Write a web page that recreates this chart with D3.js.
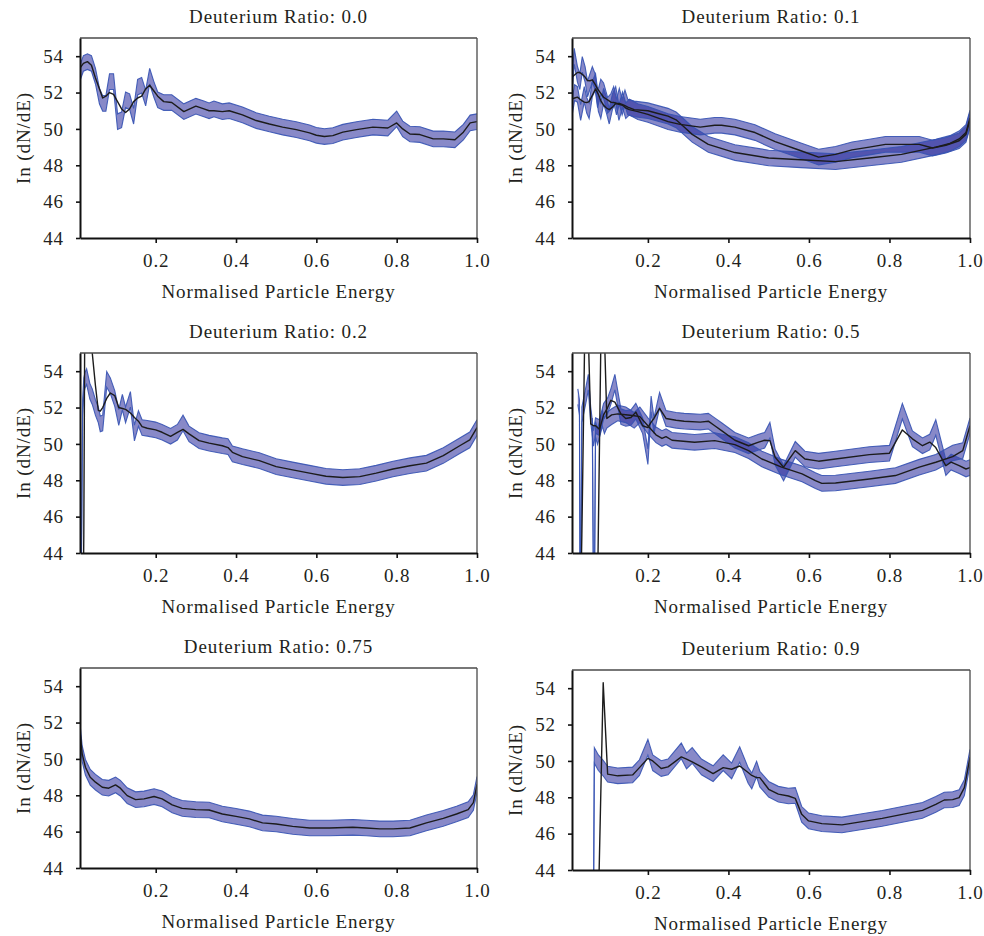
<!DOCTYPE html>
<html>
<head>
<meta charset="utf-8">
<script src="https://cdn.jsdelivr.net/npm/d3@7"></script>
<style>
  body { margin: 0; background: #ffffff; }
  text { font-family: "Liberation Serif", "Times New Roman", serif; fill: #231f20; }
</style>
</head>
<body>
<svg id="chart" width="984" height="936"></svg>
<script>
// ---- Axis ticks and labels ----
const xTicks = [0.2, 0.4, 0.6, 0.8, 1.0];
const yTicks = [44, 46, 48, 50, 52, 54];
const xDomain = [0.0115, 1.0];
const yDomain = [44, 55];
const xLabel = "Normalised Particle Energy";
const yLabel = "In (dN/dE)";
const titles = ["Deuterium Ratio: 0.0", "Deuterium Ratio: 0.1", "Deuterium Ratio: 0.2",
                "Deuterium Ratio: 0.5", "Deuterium Ratio: 0.75", "Deuterium Ratio: 0.9"];
const bandHalfWidth = 0.43;   // uncertainty half-width of the shaded band

// ---- Deuterium ratio 0.0 ----
const energy00 = [0.010,0.020,0.030,0.040,0.050,0.060,0.068,0.076,0.085,0.095,0.105,0.115,0.125,0.135,0.145,0.155,0.165,0.175,0.185,0.195,0.205,0.220,0.240,0.270,0.300,0.320,0.333,0.345,0.366,0.383,0.416,0.450,0.483,0.516,0.550,0.583,0.600,0.620,0.641,0.666,0.700,0.741,0.778,0.800,0.815,0.833,0.858,0.891,0.916,0.945,0.966,0.983,1.000];
const line00   = [53.3,53.6,53.7,53.5,52.8,52.2,51.7,51.8,52.0,51.9,51.5,51.1,50.9,51.1,51.5,51.7,51.8,52.2,52.4,52.1,51.8,51.5,51.45,50.95,51.25,51.1,51.0,51.0,50.95,51.0,50.77,50.46,50.27,50.1,49.96,49.78,49.65,49.58,49.63,49.82,49.96,50.1,50.05,50.33,50.0,49.72,49.69,49.45,49.45,49.4,49.82,50.33,50.4];
const band00   = [53.0,53.6,53.7,53.6,52.9,51.8,51.4,51.4,52.6,52.6,50.4,50.5,51.6,51.5,50.7,52.3,52.4,51.7,52.9,52.2,51.6,51.45,51.45,50.95,51.25,51.1,51.0,51.1,50.95,51.0,50.77,50.46,50.27,50.1,49.96,49.78,49.65,49.58,49.63,49.82,49.96,50.1,50.05,50.55,50.0,49.72,49.69,49.45,49.45,49.4,49.82,50.33,50.4];

// ---- Deuterium ratio 0.1 (two runs) ----
const energy01a = [0.012,0.017,0.025,0.031,0.037,0.044,0.050,0.056,0.062,0.069,0.075,0.083,0.090,0.100,0.108,0.115,0.122,0.129,0.136,0.143,0.150,0.166,0.200,0.225,0.250,0.270,0.290,0.310,0.350,0.416,0.500,0.580,0.666,0.750,0.830,0.915,0.950,0.973,0.990,1.000];
const line01a   = [52.85,52.95,53.1,53.1,53.0,52.85,52.66,52.65,52.7,52.45,52.2,51.95,51.74,51.6,51.47,51.45,51.42,51.4,51.35,51.28,51.2,51.06,51.0,50.85,50.7,50.5,50.1,49.7,49.15,48.7,48.4,48.3,48.2,48.4,48.6,49.0,49.2,49.45,49.8,50.6];
const band01a   = [52.4,54.0,53.0,52.6,53.55,53.0,52.2,52.6,53.0,52.6,51.6,52.3,52.1,51.3,51.5,51.9,51.2,51.8,51.2,51.7,51.2,51.1,51.0,50.85,50.7,50.5,50.1,49.7,49.15,48.7,48.4,48.3,48.2,48.4,48.6,49.0,49.2,49.45,49.8,50.6];
const energy01b = [0.012,0.018,0.025,0.033,0.042,0.048,0.054,0.062,0.070,0.077,0.083,0.090,0.097,0.104,0.112,0.120,0.128,0.137,0.145,0.154,0.175,0.200,0.250,0.280,0.330,0.366,0.383,0.416,0.466,0.516,0.580,0.624,0.666,0.707,0.750,0.790,0.832,0.874,0.907,0.940,0.973,0.990,1.000];
const line01b   = [51.65,51.7,51.75,51.6,51.47,51.45,51.5,51.85,52.2,51.9,51.56,51.3,51.15,51.06,51.2,51.4,51.35,51.3,51.15,51.06,50.95,50.8,50.4,50.25,50.1,50.2,50.2,50.1,49.8,49.3,48.8,48.45,48.6,48.85,49.0,49.15,49.15,49.15,48.95,49.1,49.35,49.7,50.5];
const band01b   = [51.2,52.0,51.9,50.9,51.9,51.3,51.0,52.2,52.6,51.4,51.0,51.8,51.3,50.7,51.5,51.9,50.9,51.6,51.0,51.2,50.95,50.8,50.4,50.25,50.1,50.2,50.2,50.1,49.8,49.3,48.8,48.45,48.6,48.85,49.0,49.15,49.15,49.15,48.95,49.1,49.35,49.7,50.5];

// ---- Deuterium ratio 0.2 ----
const energy02 = [0.013,0.018,0.021,0.024,0.028,0.036,0.042,0.050,0.057,0.062,0.068,0.078,0.087,0.098,0.108,0.117,0.125,0.137,0.147,0.157,0.166,0.179,0.200,0.216,0.237,0.254,0.268,0.283,0.308,0.333,0.366,0.380,0.391,0.416,0.458,0.500,0.541,0.583,0.624,0.666,0.708,0.749,0.791,0.833,0.874,0.916,0.957,0.982,1.000];
const line02   = [38,38,45,60,60,58,55,53.2,51.85,51.8,52.0,52.5,52.8,52.66,52.0,51.95,51.9,51.7,51.45,51.25,50.95,50.86,50.77,50.64,50.42,50.64,50.8,50.55,50.18,50.04,49.9,49.8,49.54,49.3,49.08,48.75,48.57,48.39,48.22,48.15,48.2,48.39,48.62,48.8,48.94,49.36,49.9,50.22,50.9];
const band02   = [38,52.0,53.2,53.5,53.7,52.9,52.6,52.0,51.6,51.1,51.15,53.55,53.2,52.5,51.45,52.3,51.6,52.45,50.6,51.4,50.9,50.86,50.77,50.64,50.42,50.64,51.15,50.55,50.18,50.04,49.9,49.85,49.45,49.3,49.08,48.75,48.57,48.39,48.22,48.15,48.2,48.39,48.62,48.8,48.94,49.36,49.9,50.22,50.9];

// ---- Deuterium ratio 0.5 (two runs) ----
const energy05a = [0.026,0.030,0.032,0.036,0.047,0.052,0.058,0.065,0.070,0.080,0.090,0.100,0.108,0.118,0.133,0.145,0.158,0.170,0.187,0.200,0.208,0.215,0.229,0.245,0.270,0.290,0.330,0.350,0.366,0.383,0.416,0.450,0.475,0.490,0.503,0.516,0.537,0.566,0.590,0.624,0.666,0.750,0.800,0.832,0.857,0.882,0.900,0.915,0.940,0.953,0.973,0.990,1.000];
const line05a   = [null,null,40,45,62,56,51.1,51.0,51.0,50.8,51.6,52.0,52.4,52.3,51.65,51.4,51.45,51.75,51.0,50.9,51.2,51.4,51.95,51.4,51.3,51.25,51.2,51.25,51.0,50.73,50.2,49.9,50.1,50.2,50.18,49.27,48.72,49.63,49.17,49.05,49.17,49.41,49.49,50.77,50.28,49.9,50.1,49.8,48.8,49.0,48.8,48.62,48.7];
const band05a   = [52.6,52.0,38,51.6,52.8,53.4,51.6,50.3,51.0,50.9,51.8,52.1,52.6,53.4,51.5,51.4,51.45,51.8,51.0,49.3,52.2,51.0,52.4,51.4,51.3,51.25,51.2,51.25,51.0,50.73,50.2,49.9,50.1,50.2,50.75,49.27,48.4,49.7,49.17,49.05,49.17,49.41,49.49,51.8,50.28,49.9,50.1,50.9,48.7,49.0,48.8,48.62,48.7];
const energy05b = [0.062,0.066,0.070,0.075,0.087,0.092,0.098,0.110,0.125,0.145,0.166,0.180,0.200,0.220,0.235,0.245,0.260,0.316,0.366,0.416,0.450,0.483,0.532,0.583,0.616,0.632,0.666,0.750,0.815,0.874,0.915,0.957,0.982,1.000];
const line05b   = [null,null,38,42,62,56,51.4,51.6,51.65,51.6,51.55,51.5,51.0,50.5,50.3,50.4,50.2,50.09,50.18,49.96,49.63,49.17,48.72,48.35,47.98,47.83,47.85,48.07,48.26,48.72,48.99,49.3,49.63,51.0];
const band05b   = [51.0,38,50.8,50.4,51.4,51.0,51.3,51.5,51.7,51.6,51.3,51.6,51.0,50.5,50.3,50.4,50.2,50.09,50.18,49.96,49.63,49.17,48.72,48.35,47.98,47.83,47.85,48.07,48.26,48.72,48.99,49.5,49.63,51.0];

// ---- Deuterium ratio 0.75 ----
const energy075 = [0.010,0.017,0.025,0.037,0.050,0.067,0.083,0.100,0.112,0.129,0.150,0.171,0.196,0.216,0.241,0.266,0.300,0.333,0.366,0.400,0.433,0.466,0.500,0.541,0.583,0.633,0.691,0.724,0.758,0.791,0.833,0.874,0.916,0.949,0.978,0.991,1.000];
const line075   = [51.83,50.28,49.54,48.99,48.72,48.44,48.39,48.57,48.39,47.98,47.76,47.8,47.93,47.8,47.47,47.28,47.21,47.19,46.97,46.84,46.7,46.48,46.42,46.29,46.2,46.2,46.24,46.2,46.15,46.15,46.2,46.48,46.73,46.97,47.21,47.6,48.6];
const band075   = line075;

// ---- Deuterium ratio 0.9 ----
const energy09 = [0.064,0.067,0.077,0.089,0.100,0.125,0.162,0.179,0.200,0.212,0.233,0.250,0.283,0.296,0.310,0.333,0.362,0.387,0.408,0.428,0.449,0.458,0.470,0.478,0.500,0.524,0.549,0.566,0.582,0.599,0.632,0.682,0.732,0.782,0.832,0.882,0.915,0.936,0.957,0.973,0.986,1.000];
const line09   = [null,null,42,54.3,49.27,49.18,49.23,49.63,50.14,50.0,49.58,49.67,50.22,50.1,49.95,49.67,49.3,49.63,49.54,49.72,49.36,49.2,49.08,49.08,48.44,48.17,48.07,47.94,47.06,46.7,46.55,46.48,46.66,46.84,47.06,47.28,47.61,47.85,47.87,47.98,48.53,50.2];
const band09   = [38,50.3,49.9,49.6,49.27,49.18,49.23,49.63,50.75,49.9,49.58,49.67,50.55,50.0,50.3,49.67,49.3,49.9,49.45,50.35,49.2,48.9,49.55,49.0,48.44,48.17,48.07,48.1,47.06,46.7,46.55,46.48,46.66,46.84,47.06,47.28,47.61,47.85,47.87,47.98,48.53,50.2];

// ---- Panel layout ----
const panels = [
  { title: titles[0], left: 80,  top: 38,  width: 397, series: [{ x: energy00, line: line00, band: band00 }] },
  { title: titles[1], left: 572, top: 38,  width: 398, series: [{ x: energy01a, line: line01a, band: band01a }, { x: energy01b, line: line01b, band: band01b }] },
  { title: titles[2], left: 80,  top: 353, width: 397, series: [{ x: energy02, line: line02, band: band02 }] },
  { title: titles[3], left: 572, top: 353, width: 398, series: [{ x: energy05a, line: line05a, band: band05a }, { x: energy05b, line: line05b, band: band05b }] },
  { title: titles[4], left: 80,  top: 668, width: 397, series: [{ x: energy075, line: line075, band: band075 }] },
  { title: titles[5], left: 572, top: 670, width: 398, series: [{ x: energy09, line: line09, band: band09 }] }
];
const panelHeight = 200;

const bandFill = "#26289a";
const bandEdge = "#3552b2";
const lineColor = "#1c1c1c";
const fontSize = 19;
const spacing = "0.9px";

const svg = d3.select("#chart");

panels.forEach((p, i) => {
  const x = d3.scaleLinear().domain(xDomain).range([p.left, p.left + p.width]);
  const y = d3.scaleLinear().domain(yDomain).range([p.top + panelHeight, p.top]);
  const g = svg.append("g");

  g.append("clipPath").attr("id", "clip" + i)
    .append("rect")
    .attr("x", p.left).attr("y", p.top)
    .attr("width", p.width).attr("height", panelHeight);

  const plot = g.append("g").attr("clip-path", `url(#clip${i})`);

  const rows = p.series.map(s => s.x.map((xv, k) => ({ x: xv, m: s.line[k], b: s.band[k] })));

  const area = d3.area()
    .x(d => x(d.x))
    .y0(d => y(d.b - bandHalfWidth))
    .y1(d => y(d.b + bandHalfWidth));
  const upper = d3.line().x(d => x(d.x)).y(d => y(d.b + bandHalfWidth));
  const lower = d3.line().x(d => x(d.x)).y(d => y(d.b - bandHalfWidth));
  const mean = d3.line()
    .defined(d => d.m !== null)
    .x(d => x(d.x)).y(d => y(d.m));

  rows.forEach(r => {
    plot.append("path").attr("d", area(r))
      .attr("fill", bandFill).attr("fill-opacity", 0.55);
  });
  rows.forEach(r => {
    [upper, lower].forEach(gen => {
      plot.append("path").attr("d", gen(r))
        .attr("fill", "none").attr("stroke", bandEdge)
        .attr("stroke-width", 1.1).attr("stroke-opacity", 0.9);
    });
  });
  rows.forEach(r => {
    plot.append("path").attr("d", mean(r))
      .attr("fill", "none").attr("stroke", lineColor)
      .attr("stroke-width", 1.4).attr("stroke-linejoin", "round");
  });

  // top and right frame
  g.append("line")
    .attr("x1", p.left).attr("x2", p.left + p.width)
    .attr("y1", p.top).attr("y2", p.top)
    .attr("stroke", "#4a4a4a").attr("stroke-width", 1.3);
  g.append("line")
    .attr("x1", p.left + p.width).attr("x2", p.left + p.width)
    .attr("y1", p.top).attr("y2", p.top + panelHeight)
    .attr("stroke", "#4a4a4a").attr("stroke-width", 1.3);

  // bottom axis
  const xa = g.append("g")
    .attr("transform", `translate(0,${p.top + panelHeight})`)
    .call(d3.axisBottom(x).tickValues(xTicks).tickFormat(d3.format(".1f")).tickSize(5).tickSizeOuter(0));
  // left axis
  const ya = g.append("g")
    .attr("transform", `translate(${p.left},0)`)
    .call(d3.axisLeft(y).tickValues(yTicks).tickFormat(d3.format("d")).tickSize(4).tickSizeOuter(0));

  [xa, ya].forEach(ax => {
    ax.attr("font-size", null).attr("font-family", null);
    ax.select(".domain").attr("stroke", "#111").attr("stroke-width", 2);
    ax.selectAll(".tick line").attr("stroke", "#111").attr("stroke-width", 1.6);
    ax.selectAll(".tick text")
      .style("font-size", fontSize + "px").style("letter-spacing", spacing)
      .attr("fill", "#231f20");
  });
  xa.selectAll(".tick text").attr("y", 29).attr("dy", null);
  ya.selectAll(".tick text").attr("x", -16);

  // title
  g.append("text")
    .attr("x", p.left + p.width / 2).attr("y", p.top - 15)
    .attr("text-anchor", "middle")
    .style("font-size", fontSize + "px").style("letter-spacing", spacing)
    .text(p.title);

  // x label
  g.append("text")
    .attr("x", p.left + p.width / 2).attr("y", p.top + panelHeight + 60)
    .attr("text-anchor", "middle")
    .style("font-size", fontSize + "px").style("letter-spacing", spacing)
    .text(xLabel);

  // y label
  g.append("text")
    .attr("transform", `translate(${p.left - 50},${p.top + panelHeight / 2}) rotate(-90)`)
    .attr("text-anchor", "middle")
    .style("font-size", fontSize + "px").style("letter-spacing", spacing)
    .text(yLabel);
});
</script>
</body>
</html>
